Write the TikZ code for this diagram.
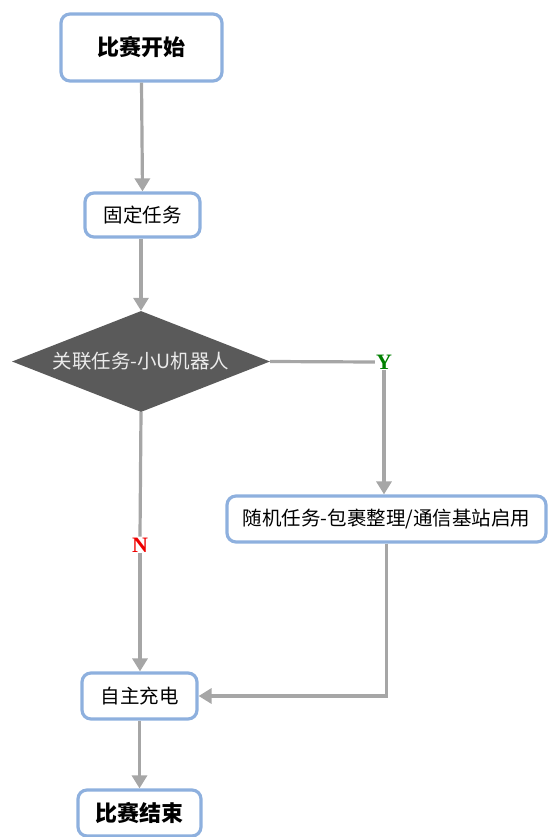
\documentclass[tikz,border=0pt]{standalone}
\usepackage{fontspec}
\setmainfont{Noto Sans CJK SC}
\newfontfamily\lblfont{Liberation Serif}
\usetikzlibrary{shapes.geometric,arrows.meta}
\definecolor{boxline}{HTML}{8EB0DE}
\definecolor{conn}{HTML}{A6A6A6}
\definecolor{dia}{HTML}{5A5A5A}
\definecolor{ygreen}{HTML}{008000}
\definecolor{nred}{HTML}{EE0000}
\tikzset{
  x=1pt, y=-1pt,
  procbox/.style={draw=boxline, line width=3.2pt, rounded corners=9pt, fill=white, inner sep=0pt, font=\fontsize{19.5}{22}\selectfont},
  termbox/.style={procbox, font=\fontsize{22}{25}\selectfont\bfseries},
  decision/.style={diamond, shape aspect=2.55, fill=dia, inner sep=0pt, text=white!92!black, font=\fontsize{19.5}{22}\selectfont},
  conn/.style={draw=conn, line width=3.2pt},
  arr/.style={conn, -{Triangle[width=15pt,length=13pt]}},
  lbl/.style={font=\lblfont\fontsize{22}{24}\selectfont\bfseries, inner sep=1pt}
}
\begin{document}
\begin{tikzpicture}
\useasboundingbox (0,0) rectangle (547,837);
\node[termbox, minimum width=161pt, minimum height=67pt] (start) at (141.5,47.5) {比赛开始};
\node[procbox, minimum width=115pt, minimum height=44pt] (fixed) at (142.5,215) {固定任务};
\node[decision, minimum width=258pt, minimum height=101pt] (dec) at (141,361.5) {关联任务-小U机器人};
\node[lbl, text=ygreen] (y) at (384,362) {Y};
\node[procbox, minimum width=319pt, minimum height=46pt] (rand) at (386.5,519) {随机任务-包裹整理/通信基站启用};
\node[lbl, text=nred] (n) at (140,545) {N};
\node[procbox, minimum width=115pt, minimum height=46pt] (charge) at (139.5,696) {自主充电};
\node[termbox, minimum width=123pt, minimum height=46pt] (end) at (139.5,813) {比赛结束};
\coordinate (corner) at (rand.south |- charge.east);

\draw[arr] (start.south -| fixed.north) ++(-1,0) -- (fixed.north);
\draw[arr] (fixed.south) ++(-1.5,0) -- (dec.north);
\draw[conn] (dec.east) -- (y.west);
\draw[arr] (y.south) -- (y.south |- rand.north);
\draw[conn] (dec.south) -- (n.north);
\draw[arr] (n.south) -- (n.south |- charge.north);
\draw[arr] (rand.south) -- (corner) -- (charge.east);
\draw[arr] (charge.south) -- (end.north);
\end{tikzpicture}
\end{document}
